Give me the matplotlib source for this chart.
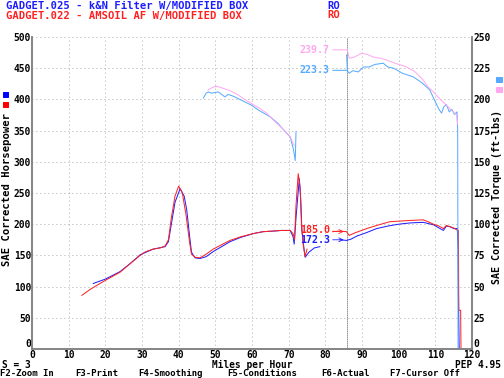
import numpy as np
import matplotlib
matplotlib.use('Agg')
import matplotlib.pyplot as plt

nan = np.nan

# horsepower, GADGET.025 (blue) and GADGET.022 (red)
hp_blue_mph = [16.7, 20, 24, 27, 29.5, 33, 36.3, 37.2, 38, 39, 40.4, 41.5, 42.2, 43, 43.5, 44.5, 45.8,
               47.5, 49.4, 52, 54, 57, 60.4, 63, 65.8, 68, 70.4, 71.2, 71.5, 72.0, 72.9, 73.3, 73.6,
               74.2, 74.5, 75.5, 77, 78.5, 79, 84, 85.8, 87, 88.6, 91, 94, 97, 100, 103, 106.7,
               109.5, 111, 112.2, 113, 114, 115, 116, 116.2, 116.3, 116.5]
hp_blue = [105, 112, 124, 138, 151, 160, 164, 172, 200, 235, 257, 245, 223, 180, 155, 146, 145,
           148, 156, 165, 172, 179, 185, 188, 189, 190, 190, 180, 168, 210, 273, 240, 190,
           160, 147, 155, 162, 164, nan, 175, 174, 176, 181, 186, 193, 197, 200, 202, 203,
           199, 194, 190, 197, 196, 193, 193, 160, 90, 0]

hp_red_mph = [13.6, 16, 20, 24, 27, 29.5, 31, 33, 35, 36.3, 37.2, 38, 39, 40, 41, 42, 43, 43.5,
              44.5, 45.8, 47.5, 49.4, 52, 54, 57, 60.4, 63, 65.8, 68, 70.4, 71.2, 71.6, 72.0,
              72.6, 73.1, 73.5, 74.0, 74.5, 75.0, 76, 82.0, 84, 85.8, 86.5, 88, 91.3, 94, 97.6,
              100.4, 103, 106.7, 108, 109.5, 111, 112.2, 113, 114, 115, 115.8, 116.3, 116.4,
              116.9, 117.0]
hp_red = [86, 96, 110, 123, 138, 150, 156, 160, 162, 165, 175, 210, 245, 261, 250, 215, 170, 152,
          147, 146, 152, 160, 168, 174, 180, 185, 188, 189, 190, 190, 185, 175, 230,
          281, 260, 200, 165, 148, 160, nan, 188, 189, 188, 182, 186, 193, 198, 204,
          205, 206, 207, 204, 200, 197, 193, 198, 196, 194, 191, 190, 62,
          62, 0]

# torque, GADGET.025 (light blue) and GADGET.022 (pink)
tq_blue_mph = [46.7, 47.5, 48.1, 49, 50.8, 51.7, 52.6, 53.5, 54.5, 56, 58, 59.8, 62, 65, 67, 68.5,
               70.4, 71.3, 71.8, 72.0, 73, 85.8, 86.0, 86.5, 87.5, 89, 90.4, 92, 93.5, 95.8, 97,
               98.6, 101, 104, 106.5, 108.5, 110, 111, 111.7, 112.3, 113, 113.8, 114.5, 115.2,
               115.9, 116.1, 116.2]
tq_blue = [201, 205, 206, 205, 206, 204, 202, 204, 203, 201, 198, 195.5, 191, 186, 181, 176,
           170, 160, 151, 174, nan, 235.6, 223, 221, 223, 222, 226, 226, 228, 229, 226,
           225, 221, 218, 213, 207.5, 198, 192, 189, 194, 196, 190, 192, 188,
           190, 175, 0]

tq_pink_mph = [48, 49.5, 50.5, 52, 54, 56, 58, 60, 62, 64, 66, 68.5, 70.4, 71.5, 73, 86.0, 86.5,
               88, 89.9, 91.5, 93, 95, 96.7, 99, 102.2, 104.5, 106.7, 108, 109.5, 111, 113,
               114.5, 115.8, 116.1]
tq_pink = [207.5, 210, 210.5, 209, 207, 204, 200, 196.5, 193, 189, 183, 176, 170, 163, nan, 239.7, 233,
           234, 237, 236, 234, 233, 231.6, 229, 226, 222, 215.5, 210, 206, 201, 195.5,
           191, 187.5, 180]

cursor_mph = 86
x_ticks = list(range(0, 130, 10))
hp_ticks = list(range(0, 550, 50))
tq_ticks = list(range(0, 275, 25))
fkeys = ['F2-Zoom In', 'F3-Print', 'F4-Smoothing', 'F5-Conditions', 'F6-Actual', 'F7-Cursor Off']
fkey_x = [0, 75, 138, 227, 321, 390]

BLUE = '#1c1cff'
RED = '#ff2020'
LBLUE = '#55aaff'
PINK = '#ffa8f0'
GRAY = '#808080'
MONO = dict(family='DejaVu Sans Mono', weight='bold')
FS = 10.5

fig = plt.figure(figsize=(7, 5.25), dpi=72)
ax = fig.add_axes([32 / 504, 29 / 378, 440 / 504, 312 / 378])
ax2 = ax.twinx()

ax.set_xlim(0, 120)
ax.set_ylim(0, 500)
ax2.set_ylim(0, 250)

for v in x_ticks[1:-1]:
    ax.axvline(v, color=GRAY, lw=0.8, ls=(0, (1, 4)))
for v in hp_ticks[1:]:
    ax.axhline(v, color=GRAY, lw=0.8, ls=(0, (1, 4)))
ax.axvline(cursor_mph, color='black', lw=0.8, ls=(0, (1, 1.5)))

ax.plot(hp_blue_mph, hp_blue, color=BLUE, lw=1)
ax.plot(hp_red_mph, hp_red, color=RED, lw=1)
ax2.plot(tq_blue_mph, tq_blue, color=LBLUE, lw=1)
ax2.plot(tq_pink_mph, tq_pink, color=PINK, lw=1)

# cursor readouts
ax2.annotate('239.7', xy=(cursor_mph, 239.7), xytext=(73, 239.7), color=PINK, fontsize=10,
             va='center', ha='left', arrowprops=dict(arrowstyle='-', color=PINK, lw=1, shrinkA=1, shrinkB=0), **MONO)
ax2.annotate('223.3', xy=(cursor_mph, 223.3), xytext=(73, 223.3), color=LBLUE, fontsize=10,
             va='center', ha='left', arrowprops=dict(arrowstyle='-', color=LBLUE, lw=1, shrinkA=1, shrinkB=0), **MONO)
ax.annotate('185.0', xy=(85, 188), xytext=(73, 190), color=RED, fontsize=10,
            va='center', ha='left', arrowprops=dict(arrowstyle='->', color=RED, lw=0.8, shrinkA=1, shrinkB=0), **MONO)
ax.annotate('172.3', xy=(85, 175), xytext=(73, 175), color=BLUE, fontsize=10,
            va='center', ha='left', arrowprops=dict(arrowstyle='->', color=BLUE, lw=0.8, shrinkA=1, shrinkB=0), **MONO)

for a in (ax, ax2):
    a.spines['top'].set_visible(False)
    for s in ('left', 'right', 'bottom'):
        a.spines[s].set_color(GRAY)
        a.spines[s].set_linewidth(1.5)
    a.tick_params(length=0, pad=1, labelsize=9.5)
ax.set_xticks(x_ticks)
ax.set_yticks(hp_ticks)
ax2.set_yticks(tq_ticks)
for lab in ax.get_xticklabels() + ax.get_yticklabels() + ax2.get_yticklabels():
    lab.set_fontfamily('DejaVu Sans Mono')
    lab.set_fontweight('bold')
ax.get_yticklabels()[0].set_va('bottom')
ax2.get_yticklabels()[0].set_va('bottom')

# header, footer, axis titles
fig.text(6 / 504, 1 - 6 / 378, 'GADGET.025 - k&N Filter W/MODIFIED BOX', color=BLUE, fontsize=FS, va='center', **MONO)
fig.text(327 / 504, 1 - 6 / 378, 'RO', color=BLUE, fontsize=FS, va='center', **MONO)
fig.text(6 / 504, 1 - 15.5 / 378, 'GADGET.022 - AMSOIL AF W/MODIFIED BOX', color=RED, fontsize=FS, va='center', **MONO)
fig.text(327 / 504, 1 - 15.5 / 378, 'RO', color=RED, fontsize=FS, va='center', **MONO)

fig.text(2 / 504, 1 - 365 / 378, 'S = 3', fontsize=9.5, va='center', **MONO)
fig.text(252 / 504, 1 - 365 / 378, 'Miles per Hour', fontsize=9.5, va='center', ha='center', **MONO)
fig.text(501 / 504, 1 - 365 / 378, 'PEP 4.95', fontsize=9.5, va='center', ha='right', **MONO)
for lbl, xp in zip(fkeys, fkey_x):
    fig.text(xp / 504, 1 - 373.5 / 378, lbl, fontsize=9, va='center', **MONO)

fig.text(7 / 504, 1 - 190 / 378, 'SAE Corrected Horsepower', rotation=90, fontsize=FS, va='center', ha='center', **MONO)
fig.text(497 / 504, 1 - 197 / 378, 'SAE Corrected Torque (ft-lbs)', rotation=90, fontsize=10, va='center', ha='center', **MONO)

# little colour keys
fig.patches.append(plt.Rectangle((3 / 504, 1 - 97 / 378), 5 / 504, 5 / 378, transform=fig.transFigure, color='#0000ff'))
fig.patches.append(plt.Rectangle((3 / 504, 1 - 107 / 378), 5 / 504, 5 / 378, transform=fig.transFigure, color='#ff0000'))
fig.patches.append(plt.Rectangle((496 / 504, 1 - 82 / 378), 6 / 504, 5 / 378, transform=fig.transFigure, color=LBLUE))
fig.patches.append(plt.Rectangle((496 / 504, 1 - 92 / 378), 6 / 504, 5 / 378, transform=fig.transFigure, color=PINK))

fig.savefig('out.png', dpi=72)
